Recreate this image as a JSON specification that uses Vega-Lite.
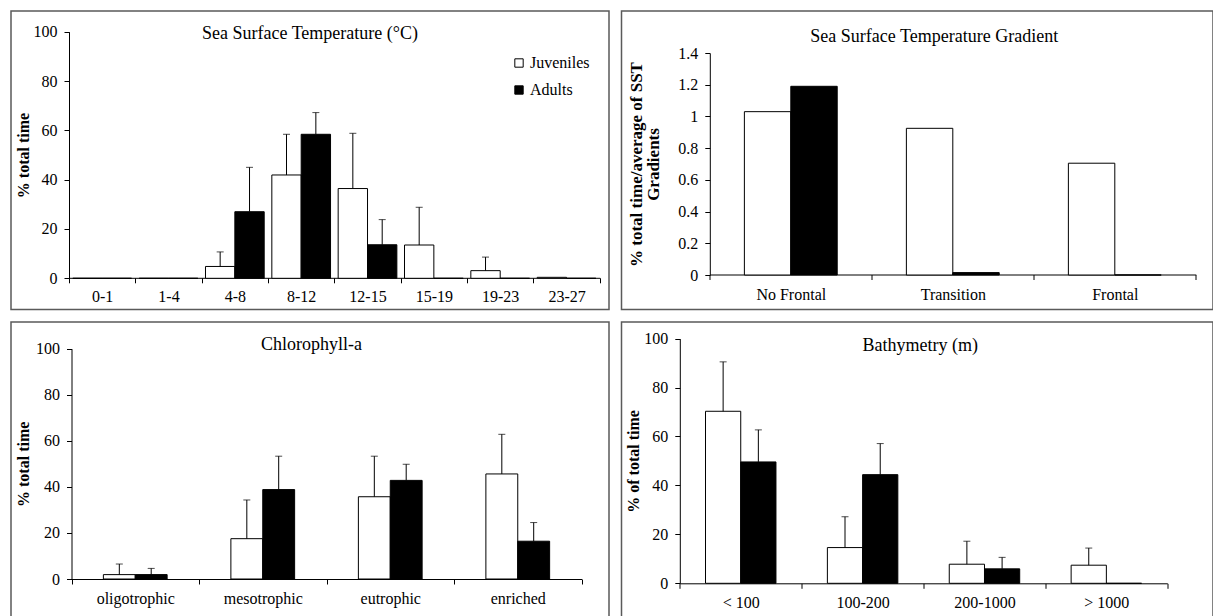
{
  "$schema": "https://vega.github.io/schema/vega-lite/v6.json",
  "background": "white",
  "padding": {"left": 10, "top": 10, "right": 0, "bottom": 0},
  "columns": 2,
  "spacing": {"row": 10, "column": 10.5},
  "resolve": {"scale": {"color": "independent", "x": "independent", "y": "independent", "xOffset": "independent"}, "legend": {"color": "independent"}},
  "config": {
    "font": "Liberation Serif",
    "view": {"stroke": "#5a5a5a", "strokeWidth": 1.5},
    "axis": {"grid": false, "domainColor": "black", "domainWidth": 1, "tickColor": "black", "tickWidth": 1, "tickSize": 5, "labelColor": "black", "titleColor": "black", "labelFont": "Liberation Serif", "titleFont": "Liberation Serif", "labelFontSize": 16, "titleFontSize": 16, "titleFontWeight": "bold"},
    "title": {"font": "Liberation Serif", "fontSize": 18, "fontWeight": "normal", "color": "black", "frame": "group", "anchor": "middle", "baseline": "middle"},
    "legend": {"labelFont": "Liberation Serif", "labelColor": "black"}
  },
  "concat": [
    {
      "width": 598, "height": 298.5,
      "title": {"text": "Sea Surface Temperature (°C)", "offset": -32},
      "data": {"values": [
        {"cat": "0-1", "group": "Juveniles", "value": 0, "upper": null},
        {"cat": "0-1", "group": "Adults", "value": 0, "upper": null},
        {"cat": "1-4", "group": "Juveniles", "value": 0, "upper": null},
        {"cat": "1-4", "group": "Adults", "value": 0, "upper": null},
        {"cat": "4-8", "group": "Juveniles", "value": 4.8, "upper": 10.7},
        {"cat": "4-8", "group": "Adults", "value": 27.0, "upper": 45.0},
        {"cat": "8-12", "group": "Juveniles", "value": 41.9, "upper": 58.4},
        {"cat": "8-12", "group": "Adults", "value": 58.4, "upper": 67.2},
        {"cat": "12-15", "group": "Juveniles", "value": 36.4, "upper": 58.8},
        {"cat": "12-15", "group": "Adults", "value": 13.6, "upper": 23.8},
        {"cat": "15-19", "group": "Juveniles", "value": 13.5, "upper": 28.8},
        {"cat": "15-19", "group": "Adults", "value": 0, "upper": null},
        {"cat": "19-23", "group": "Juveniles", "value": 3.1, "upper": 8.6},
        {"cat": "19-23", "group": "Adults", "value": 0, "upper": null},
        {"cat": "23-27", "group": "Juveniles", "value": 0.4, "upper": null},
        {"cat": "23-27", "group": "Adults", "value": 0, "upper": null}
      ]},
      "encoding": {
        "x": {"field": "cat", "type": "nominal", "sort": null, "scale": {"range": [58, 588.7], "paddingInner": 0, "paddingOuter": 0}, "axis": {"offset": -31.7, "tickBand": "extent", "labelAngle": 0, "title": null, "labelPadding": 6}},
        "xOffset": {"field": "group", "type": "nominal", "sort": ["Juveniles", "Adults"], "scale": {"paddingOuter": 0.13, "paddingInner": 0}}
      },
      "layer": [
        {
          "mark": {"type": "bar", "stroke": "black", "strokeWidth": 1},
          "encoding": {
            "y": {"field": "value", "type": "quantitative", "scale": {"domain": [0, 100], "nice": false, "range": [267.3, 20.7]}, "axis": {"offset": -58, "values": [0, 20, 40, 60, 80, 100], "labelPadding": 7, "title": "% total time", "titlePadding": 2}},
            "color": {"field": "group", "type": "nominal", "scale": {"domain": ["Juveniles", "Adults"], "range": ["white", "black"]}, "legend": {"orient": "none", "legendX": 500, "legendY": 44, "title": null, "symbolType": "square", "symbolSize": 70, "symbolStrokeColor": "black", "symbolStrokeWidth": 1, "labelFontSize": 16, "rowPadding": 11, "labelOffset": 3, "padding": 0}}
          }
        },
        {
          "transform": [{"filter": "isValid(datum.upper)"}],
          "mark": {"type": "rule", "color": "black", "strokeWidth": 1},
          "encoding": {"y": {"field": "value", "type": "quantitative", "title": "% total time"}, "y2": {"field": "upper"}}
        },
        {
          "transform": [{"filter": "isValid(datum.upper)"}],
          "mark": {"type": "tick", "orient": "horizontal", "size": 7, "thickness": 1, "color": "black"},
          "encoding": {"y": {"field": "upper", "type": "quantitative", "title": "% total time"}}
        }
      ]
    },
    {
      "width": 591.5, "height": 298.5,
      "title": {"text": "Sea Surface Temperature Gradient", "offset": -34.7, "dx": 17},
      "data": {"values": [
        {"cat": "No Frontal", "group": "Juveniles", "value": 1.03},
        {"cat": "No Frontal", "group": "Adults", "value": 1.19},
        {"cat": "Transition", "group": "Juveniles", "value": 0.925},
        {"cat": "Transition", "group": "Adults", "value": 0.015},
        {"cat": "Frontal", "group": "Juveniles", "value": 0.705},
        {"cat": "Frontal", "group": "Adults", "value": 0}
      ]},
      "encoding": {
        "x": {"field": "cat", "type": "nominal", "sort": null, "scale": {"range": [88.3, 574.3], "paddingInner": 0, "paddingOuter": 0}, "axis": {"offset": -35, "tickBand": "extent", "labelAngle": 0, "title": null, "labelPadding": 7}},
        "xOffset": {"field": "group", "type": "nominal", "sort": ["Juveniles", "Adults"], "scale": {"paddingOuter": 0.745, "paddingInner": 0}}
      },
      "layer": [
        {
          "mark": {"type": "bar", "stroke": "black", "strokeWidth": 1},
          "encoding": {
            "y": {"field": "value", "type": "quantitative", "scale": {"domain": [0, 1.4], "nice": false, "range": [264, 42]}, "axis": {"offset": -88.3, "values": [0, 0.2, 0.4, 0.6, 0.8, 1, 1.2, 1.4], "format": ".1~f", "labelPadding": 7, "title": ["% total time/average of SST", "Gradients"], "titleFontSize": 17, "titlePadding": 15, "titleLineHeight": 17}},
            "color": {"field": "group", "type": "nominal", "scale": {"domain": ["Juveniles", "Adults"], "range": ["white", "black"]}, "legend": null}
          }
        }
      ]
    },
    {
      "width": 598, "height": 295.3,
      "title": {"text": "Chlorophyll-a", "offset": -31.8, "dx": 1.5},
      "data": {"values": [
        {"cat": "oligotrophic", "group": "Juveniles", "value": 1.9, "upper": 6.5},
        {"cat": "oligotrophic", "group": "Adults", "value": 1.9, "upper": 4.6},
        {"cat": "mesotrophic", "group": "Juveniles", "value": 17.5, "upper": 34.3},
        {"cat": "mesotrophic", "group": "Adults", "value": 38.8, "upper": 53.3},
        {"cat": "eutrophic", "group": "Juveniles", "value": 35.7, "upper": 53.3},
        {"cat": "eutrophic", "group": "Adults", "value": 42.8, "upper": 49.8},
        {"cat": "enriched", "group": "Juveniles", "value": 45.6, "upper": 62.8},
        {"cat": "enriched", "group": "Adults", "value": 16.4, "upper": 24.5}
      ]},
      "encoding": {
        "x": {"field": "cat", "type": "nominal", "sort": null, "scale": {"range": [60.5, 570.5], "paddingInner": 0, "paddingOuter": 0}, "axis": {"offset": -38.3, "tickBand": "extent", "labelAngle": 0, "title": null, "labelPadding": 6}},
        "xOffset": {"field": "group", "type": "nominal", "sort": ["Juveniles", "Adults"], "scale": {"paddingOuter": 1.08, "paddingInner": 0}}
      },
      "layer": [
        {
          "mark": {"type": "bar", "stroke": "black", "strokeWidth": 1},
          "encoding": {
            "y": {"field": "value", "type": "quantitative", "scale": {"domain": [0, 100], "nice": false, "range": [257, 26.6]}, "axis": {"offset": -60.5, "values": [0, 20, 40, 60, 80, 100], "labelPadding": 7, "title": "% total time", "titlePadding": 4}},
            "color": {"field": "group", "type": "nominal", "scale": {"domain": ["Juveniles", "Adults"], "range": ["white", "black"]}, "legend": null}
          }
        },
        {
          "mark": {"type": "rule", "color": "black", "strokeWidth": 1},
          "encoding": {"y": {"field": "value", "type": "quantitative", "title": "% total time"}, "y2": {"field": "upper"}}
        },
        {
          "mark": {"type": "tick", "orient": "horizontal", "size": 7, "thickness": 1, "color": "black"},
          "encoding": {"y": {"field": "upper", "type": "quantitative", "title": "% total time"}}
        }
      ]
    },
    {
      "width": 591.5, "height": 295.3,
      "title": {"text": "Bathymetry (m)", "offset": -32.5, "dx": 3},
      "data": {"values": [
        {"cat": "< 100", "group": "Juveniles", "value": 70.3, "upper": 90.5},
        {"cat": "< 100", "group": "Adults", "value": 49.6, "upper": 62.7},
        {"cat": "100-200", "group": "Juveniles", "value": 14.6, "upper": 27.2},
        {"cat": "100-200", "group": "Adults", "value": 44.4, "upper": 57.1},
        {"cat": "200-1000", "group": "Juveniles", "value": 7.8, "upper": 17.2},
        {"cat": "200-1000", "group": "Adults", "value": 5.9, "upper": 10.6},
        {"cat": "> 1000", "group": "Juveniles", "value": 7.4, "upper": 14.4},
        {"cat": "> 1000", "group": "Adults", "value": 0, "upper": null}
      ]},
      "encoding": {
        "x": {"field": "cat", "type": "nominal", "sort": null, "scale": {"range": [58.3, 545.8], "paddingInner": 0, "paddingOuter": 0}, "axis": {"offset": -34, "tickBand": "extent", "labelAngle": 0, "title": null, "labelPadding": 6}},
        "xOffset": {"field": "group", "type": "nominal", "sort": ["Juveniles", "Adults"], "scale": {"paddingOuter": 0.73, "paddingInner": 0}}
      },
      "layer": [
        {
          "mark": {"type": "bar", "stroke": "black", "strokeWidth": 1},
          "encoding": {
            "y": {"field": "value", "type": "quantitative", "scale": {"domain": [0, 100], "nice": false, "range": [261.3, 16.6]}, "axis": {"offset": -58.3, "values": [0, 20, 40, 60, 80, 100], "labelPadding": 7, "title": "% of total time", "titlePadding": 2}},
            "color": {"field": "group", "type": "nominal", "scale": {"domain": ["Juveniles", "Adults"], "range": ["white", "black"]}, "legend": null}
          }
        },
        {
          "transform": [{"filter": "isValid(datum.upper)"}],
          "mark": {"type": "rule", "color": "black", "strokeWidth": 1},
          "encoding": {"y": {"field": "value", "type": "quantitative", "title": "% of total time"}, "y2": {"field": "upper"}}
        },
        {
          "transform": [{"filter": "isValid(datum.upper)"}],
          "mark": {"type": "tick", "orient": "horizontal", "size": 7, "thickness": 1, "color": "black"},
          "encoding": {"y": {"field": "upper", "type": "quantitative", "title": "% of total time"}}
        }
      ]
    }
  ]
}
